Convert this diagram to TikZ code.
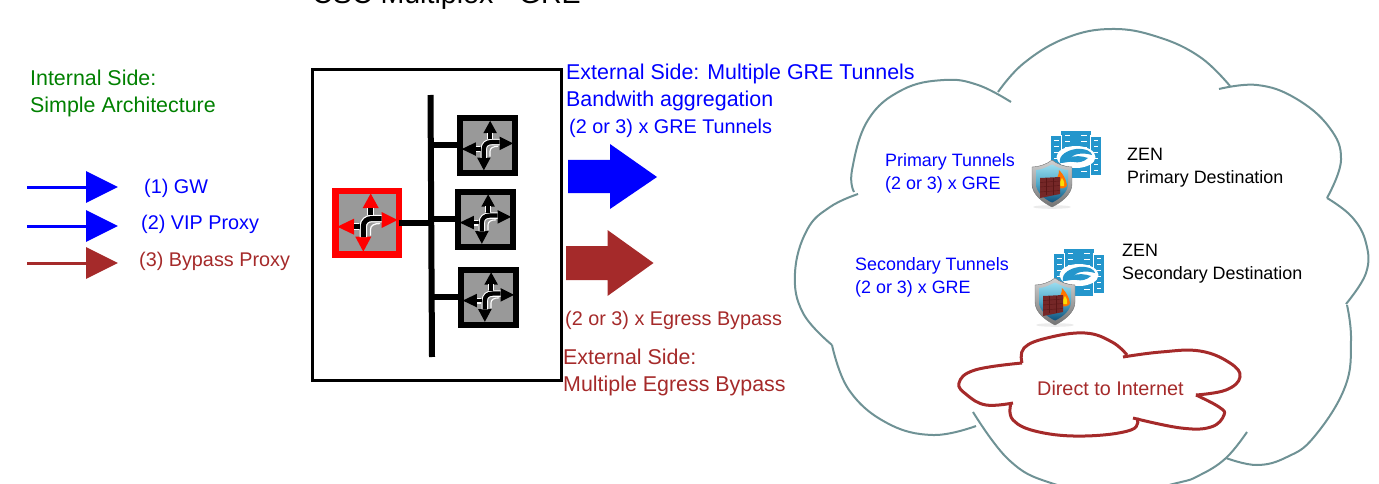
\documentclass[tikz,border=0pt]{standalone}
\usepackage{fontspec}
\setmainfont{Liberation Sans}
\usetikzlibrary{arrows.meta}
\definecolor{brw}{HTML}{A52A2A}
\definecolor{cloudc}{HTML}{6F9295}
\definecolor{gry}{HTML}{999999}
\definecolor{rack}{HTML}{2496CC}
\definecolor{shtop}{HTML}{9ADCEF}
\definecolor{shmid}{HTML}{4FA9C9}
\definecolor{shbot}{HTML}{0F4F7A}
\newcommand{\routerglyph}[3]{%
 \begin{scope}[shift={(#1)},scale=#2]
  \fill[#3] (3.7,-29)--(11.7,-14.5)--(-4.3,-14.5)--cycle;
  \fill[#3] (30.7,-2.5)--(14.7,-10.5)--(14.7,5.5)--cycle;
  \fill[#3] (-29.7,4.2)--(-13,-3.8)--(-13,12.2)--cycle;
  \fill[#3] (-3.7,29.2)--(-11.7,14.2)--(4.3,14.2)--cycle;
  \draw[white,line width=#2*7.5pt] (-3.7,14.5)--(-3.7,4) .. controls (-3.7,-1) and (0,-4) .. (5,-4)--(14.7,-4);
  \draw[black,line width=#2*5pt] (-3.7,14.5)--(-3.7,4) .. controls (-3.7,-1) and (0,-4) .. (5,-4)--(14.7,-4);
  \draw[white,line width=#2*7pt] (3.7,-15)--(3.7,-8);
  \draw[black,line width=#2*4.5pt] (3.7,-15)--(3.7,-7.5);
  \draw[white,line width=#2*7pt] (-13,4.2)--(-8,4.2);
  \draw[black,line width=#2*4.5pt] (-13.5,4.2)--(-7.5,4.2);
  \draw[white,line width=#2*1.3pt] (3.5,13)--(3.5,7) .. controls (3.5,3) and (7,1) .. (13,1);
 \end{scope}}
\tikzset{
 x=1pt,y=-1pt,
 txt/.style={anchor=west,inner sep=0pt,align=left},
 big/.style={txt,font=\fontsize{21.4}{27}\selectfont},
 mid/.style={txt,font=\fontsize{19.8}{23}\selectfont},
 small/.style={txt,font=\fontsize{17.9}{23}\selectfont},
 blockb/.style={fill=blue},
 blockr/.style={fill=brw},
 redrouter/.style={draw=red,fill=gry,line width=6.5pt,minimum size=63.5pt,inner sep=0pt,outer sep=0pt},
 blkrouter/.style={draw=black,fill=gry,line width=6pt,minimum size=55pt,inner sep=0pt,outer sep=0pt},
 busline/.style={line width=6pt,black},
 lobe/.style={draw=cloudc,line width=2pt},
 inner/.style={draw=brw,line width=3pt,line join=round},
 legend/.style={line width=3pt,-{Triangle[length=32pt,width=31pt]}},
 zenicon/.pic={
  \foreach \a/\b/\c/\d in {-1/-24/10/13,39/-23/49/15,9/-29/39/18}{
   \fill[rack] (\a,\b) rectangle (\c,\d);
  }
  \draw[white,line width=.5pt] (9.5,-25) -- (9.5,18) (38.5,-25) -- (38.5,18);
  \foreach \yy in {-25,-19,...,15}{
   \fill[white] (13,\yy) rectangle (18,\yy+1);
   \fill[white] (29,\yy) rectangle (35,\yy+1);
  }
  \foreach \yy in {-20,-14,...,10}{
   \fill[white] (2,\yy) rectangle (7,\yy+1);
   \fill[white] (42,\yy) rectangle (46,\yy+1);
  }
  \fill[white] (24,-3) ellipse [x radius=19.5,y radius=11];
  \fill[rack] (8,3) .. controls (6,-5) and (16,-10) .. (24,-11) .. controls (34,-12) and (40,-8) .. (40,-5) .. controls (30,-8) and (22,-6) .. (18,-2) .. controls (22,-5) and (30,-4) .. (36,-2) .. controls (32,2) and (26,3) .. (22,2) .. controls (17,1) and (14,3) .. (8,3) -- cycle;
  \fill[black!8] (0,47) ellipse [x radius=19,y radius=1.8];
  \path[top color=black!18,bottom color=black!55,draw=black!55,line width=.4pt]
    (0,0) .. controls (5,4) and (13,7) .. (20,7) -- (20,24) .. controls (20,34) and (10,42) .. (0,47) .. controls (-10,42) and (-20,34) .. (-20,24) -- (-20,7) .. controls (-13,7) and (-5,4) .. (0,0) -- cycle;
  \path[top color=shtop,bottom color=shbot,middle color=shmid]
    (0,4.5) .. controls (5,7) and (11,10) .. (16,10) -- (16,24) .. controls (16,32) and (8,39) .. (0,42.5) .. controls (-8,39) and (-16,32) .. (-16,24) -- (-16,10) .. controls (-11,10) and (-5,7) .. (0,4.5) -- cycle;
  \fill[orange!90!red] (4,27) .. controls (2,20) and (7,18) .. (7,10) .. controls (11,14) and (14,19) .. (15,25) .. controls (15,28) and (8,30) .. (4,27) -- cycle;
  \fill[yellow!80!orange] (8,26) .. controls (7,22) and (9,20) .. (10,18) .. controls (12,21) and (13,24) .. (12,26) -- cycle;
  \fill[brw!70!black!90!gray] (-12,18) -- (8,17) -- (8,34) -- (-12,38) -- cycle;
  \foreach \yy in {22.5,27,32}{\draw[black!45!brw,line width=.4pt] (-12,\yy) -- (8,\yy-1.5);}
  \foreach \xx in {-6,1}{\draw[black!45!brw,line width=.4pt] (\xx,18) -- (\xx,35);}
 }
}
\begin{document}
\begin{tikzpicture}
\useasboundingbox (0,0) rectangle (1379,484);
\clip (0,0) rectangle (1379,484);

% title (cut by the top edge)
\node[txt,font=\fontsize{28.6}{32}\selectfont] (title) at (312,-3.5) {CSC Multiplex - GRE};

% left legend
\node[big,text=green!50!black] (internal) at (30,93) {Internal Side:\\Simple Architecture};
\coordinate (l1s) at (27,187); \coordinate (l1e) at (118,187);
\coordinate (l2s) at (27,226); \coordinate (l2e) at (118,226);
\coordinate (l3s) at (27,263); \coordinate (l3e) at (118,263);
\draw[legend,blue] (l1s) -- (l1e);
\draw[legend,blue] (l2s) -- (l2e);
\draw[legend,brw] (l3s) -- (l3e);
\node[mid,text=blue] (gw) at (144,188) {(1) GW};
\node[mid,text=blue] (vip) at (141,224) {(2) VIP Proxy};
\node[mid,text=brw] (byp) at (139,261) {(3) Bypass Proxy};

% device box
\draw[line width=3pt,black] (312,70) rectangle (561,380);
\coordinate (bt) at (430.5,95); \coordinate (bb) at (432,357);
\draw[busline] (bt) -- (bb);
\node[redrouter] (r0) at (367,222.5) {};
\node[blkrouter] (r1) at (487,145.5) {};
\node[blkrouter] (r2) at (485,219) {};
\node[blkrouter] (r3) at (488,297) {};
\coordinate (j0) at (430.5,222.5);
\coordinate (j1) at (430.5,145.5);
\coordinate (j2) at (430.5,219);
\coordinate (j3) at (431.5,297);
\draw[busline] (r0.east) -- (j0);
\draw[busline] (r1.west) -- (j1);
\draw[busline] (r2.west) -- (j2);
\draw[busline] (r3.west) -- (j3);
\routerglyph{r0.center}{1}{red}
\routerglyph{r1.center}{0.85}{black}
\routerglyph{r2.center}{0.85}{black}
\routerglyph{r3.center}{0.85}{black}

% block arrows
\fill[blockb] (568,160) -- (610,160) -- (610,144) -- (657,177) -- (610,209) -- (610,193) -- (568,193) -- cycle;
\fill[blockr] (566,246) -- (607.5,246) -- (607.5,230) -- (653.5,263) -- (607.5,296) -- (607.5,280) -- (566,280) -- cycle;

% middle texts
\node[big,text=blue] (ext1) at (566,87) {External Side: Multiple GRE Tunnels\\Bandwith aggregation};
\node[mid,text=blue] (ext2) at (569,128) {(2 or 3) x GRE Tunnels};
\node[mid,text=brw] (egr) at (565,320) {(2 or 3) x Egress Bypass};
\node[big,text=brw] (ext3) at (563,372) {External Side:\\Multiple Egress Bypass};

% big cloud
\draw[lobe] plot[smooth,tension=.7] coordinates {(998,92) (1024,63) (1066,38) (1112,29) (1158,37) (1200,57) (1230,86)};
\draw[lobe] plot[smooth,tension=.7] coordinates {(1219,89) (1257,85) (1295,98) (1329,127) (1341,160) (1327,198)};
\draw[lobe] plot[smooth,tension=.7] coordinates {(1327,198) (1352,217) (1366,243) (1366,273) (1346,304)};
\draw[lobe] plot[smooth,tension=.7] coordinates {(1347,305) (1351,340) (1345,387) (1314,437) (1287,457) (1257,465) (1226,458)};
\draw[lobe] plot[smooth,tension=.7] coordinates {(1247,432) (1226,458) (1200,475) (1177,483) (1115,495) (1051,483) (1009,460) (973,412)};
\draw[lobe] plot[smooth,tension=.7] coordinates {(976,426) (933,435) (887,423) (849,390) (832,345)};
\draw[lobe] plot[smooth,tension=.7] coordinates {(832,345) (803,313) (795,273) (807,230) (830,207) (858,194)};
\draw[lobe] plot[smooth,tension=.7] coordinates {(854,192) (852,170) (868,120) (902,90) (944,80) (978,85) (1011,102)};

% inner cloud
\draw[inner] plot[smooth,tension=.7] coordinates {(1022,363) (1024,348) (1047,338) (1085,333) (1112,342) (1127,355)};
\draw[inner] plot[smooth,tension=.7] coordinates {(1123,357) (1161,352) (1200,351) (1230,363) (1240,377) (1226,390) (1196,395)};
\draw[inner] plot[smooth,tension=.7] coordinates {(1196,395) (1219,407) (1224,415) (1211,427) (1181,428) (1133,418)};
\draw[inner] plot[smooth,tension=.7] coordinates {(1137,418) (1131,430) (1085,436) (1039,432) (1013,420) (1011,403)};
\draw[inner] plot[smooth,tension=.7] coordinates {(1013,403) (986,405) (967,395) (959,383) (975,370) (1022,363)};

% icons
\pic (zen1) at (1052,160) {zenicon};
\pic (zen2) at (1055,278) {zenicon};

% cloud texts
\node[small,text=blue] (prim) at (885,173) {Primary Tunnels\\(2 or 3) x GRE};
\node[small,text=blue] (sec) at (855,277) {Secondary Tunnels\\(2 or 3) x GRE};
\node[small,text=black] (zen1t) at (1127,167.5) {ZEN\\Primary Destination};
\node[small,text=black] (zen2t) at (1122,263.5) {ZEN\\Secondary Destination};
\node[mid,text=brw] (dir) at (1037,388) {Direct to Internet};
\end{tikzpicture}
\end{document}
